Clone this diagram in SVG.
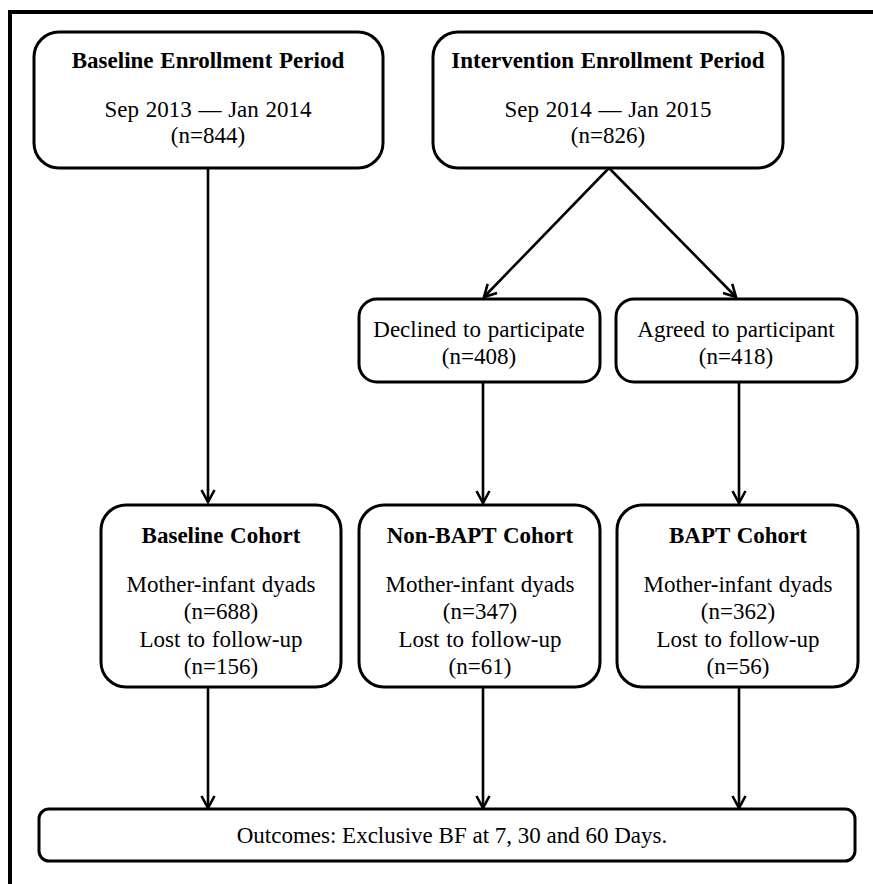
<svg xmlns="http://www.w3.org/2000/svg" width="873" height="884" viewBox="0 0 873 884">
<defs>
<style>
.box{fill:#fff;stroke:#000;stroke-width:3}
.t{font-family:"Liberation Serif","Times New Roman",serif;font-size:23px;fill:#000;text-anchor:middle;word-spacing:1px}
.b{font-weight:bold}
.o{word-spacing:0}
.c{fill:none;stroke:#000;stroke-width:2.6}
</style>
<marker id="ah" viewBox="0 0 16 16" refX="14" refY="8" markerWidth="16" markerHeight="16" markerUnits="userSpaceOnUse" orient="auto">
<path d="M2,1.5 L14,8 L2,14.5" fill="none" stroke="#000" stroke-width="2.6" stroke-linejoin="miter"/>
</marker>
</defs>
<rect width="873" height="884" fill="#fff"/>
<path d="M10,884 V12 H873" fill="none" stroke="#000" stroke-width="4"/>
<g id="connectors">
<line class="c" x1="208" y1="168" x2="208" y2="502" marker-end="url(#ah)"/>
<line class="c" x1="609" y1="168" x2="484" y2="297" marker-end="url(#ah)"/>
<line class="c" x1="609" y1="168" x2="736" y2="297" marker-end="url(#ah)"/>
<line class="c" x1="483" y1="382" x2="483" y2="503" marker-end="url(#ah)"/>
<line class="c" x1="739" y1="382" x2="739" y2="503" marker-end="url(#ah)"/>
<line class="c" x1="208" y1="687" x2="208" y2="808" marker-end="url(#ah)"/>
<line class="c" x1="483" y1="687" x2="483" y2="808" marker-end="url(#ah)"/>
<line class="c" x1="739" y1="687" x2="739" y2="808" marker-end="url(#ah)"/>
</g>
<g id="baseline-enrollment">
<rect class="box" x="34" y="32" width="349" height="136" rx="25"/>
<text class="t b" x="208" y="68">Baseline Enrollment Period</text>
<text class="t" x="208" y="117">Sep 2013 — Jan 2014</text>
<text class="t" x="208" y="143">(n=844)</text>
</g>
<g id="intervention-enrollment">
<rect class="box" x="433" y="32" width="350" height="136" rx="25"/>
<text class="t b" x="608" y="68">Intervention Enrollment Period</text>
<text class="t" x="608" y="117">Sep 2014 — Jan 2015</text>
<text class="t" x="608" y="143">(n=826)</text>
</g>
<g id="declined">
<rect class="box" x="359" y="299" width="241" height="83" rx="18"/>
<text class="t" x="479" y="337">Declined to participate</text>
<text class="t" x="479" y="364">(n=408)</text>
</g>
<g id="agreed">
<rect class="box" x="616" y="299" width="241" height="83" rx="18"/>
<text class="t" x="736" y="337">Agreed to participant</text>
<text class="t" x="736" y="364">(n=418)</text>
</g>
<g id="baseline-cohort">
<rect class="box" x="101" y="505" width="240" height="182" rx="25"/>
<text class="t b" x="221" y="543">Baseline Cohort</text>
<text class="t" x="221" y="592">Mother-infant dyads</text>
<text class="t" x="221" y="619">(n=688)</text>
<text class="t" x="221" y="647">Lost to follow-up</text>
<text class="t" x="221" y="674">(n=156)</text>
</g>
<g id="non-bapt-cohort">
<rect class="box" x="359" y="505" width="241" height="182" rx="25"/>
<text class="t b" x="480" y="543">Non-BAPT Cohort</text>
<text class="t" x="480" y="592">Mother-infant dyads</text>
<text class="t" x="480" y="619">(n=347)</text>
<text class="t" x="480" y="647">Lost to follow-up</text>
<text class="t" x="480" y="674">(n=61)</text>
</g>
<g id="bapt-cohort">
<rect class="box" x="617" y="505" width="241" height="182" rx="25"/>
<text class="t b" x="738" y="543">BAPT Cohort</text>
<text class="t" x="738" y="592">Mother-infant dyads</text>
<text class="t" x="738" y="619">(n=362)</text>
<text class="t" x="738" y="647">Lost to follow-up</text>
<text class="t" x="738" y="674">(n=56)</text>
</g>
<g id="outcomes">
<rect class="box" x="39" y="809" width="816" height="52" rx="10"/>
<text class="t o" x="452" y="843">Outcomes: Exclusive BF at 7, 30 and 60 Days.</text>
</g>
</svg>
